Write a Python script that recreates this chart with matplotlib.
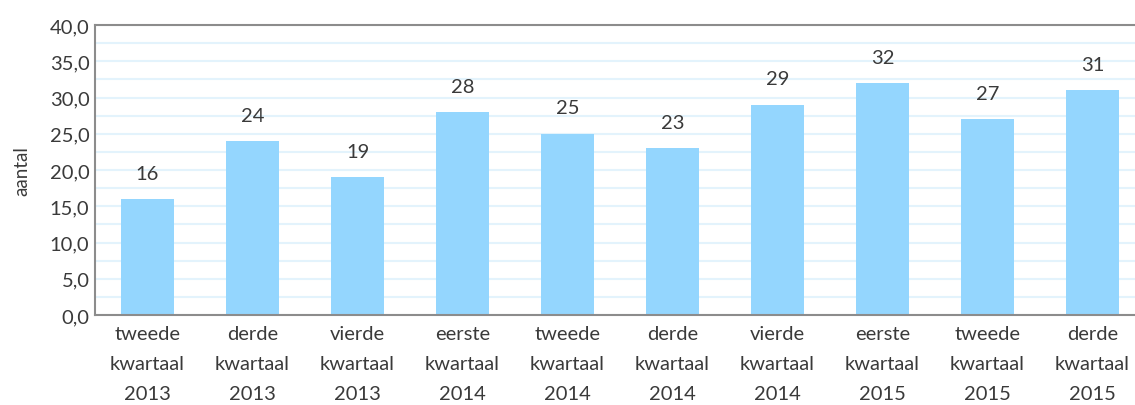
import matplotlib.pyplot as plt
from matplotlib.ticker import MultipleLocator, FuncFormatter
import numpy as np

# Data
categories = ['tweede\nkwartaal\n2013', 'derde\nkwartaal\n2013', 'vierde\nkwartaal\n2013',
              'eerste\nkwartaal\n2014', 'tweede\nkwartaal\n2014', 'derde\nkwartaal\n2014',
              'vierde\nkwartaal\n2014', 'eerste\nkwartaal\n2015', 'tweede\nkwartaal\n2015',
              'derde\nkwartaal\n2015']
values = [16, 24, 19, 28, 25, 23, 29, 32, 27, 31]

BAR = '#94d6fe'
GRID = '#e3f3fc'
TEXT = '#3a3a3a'
SPINE = '#8c8c8c'

plt.rcParams['font.family'] = ['Lato', 'DejaVu Sans']

fig = plt.figure(figsize=(11.35, 4.06), dpi=100, facecolor='white')
ax = fig.add_axes([95 / 1135, 1 - 316 / 406, 1050 / 1135, 290 / 406])

x = np.arange(len(values))
ax.bar(x, values, width=0.5, color=BAR, zorder=2)
for xi, v in zip(x, values):
    ax.text(xi, v + 2.4, str(v), ha='center', va='bottom', fontsize=14.5, color=TEXT)

ax.set_xlim(-0.5, len(values) - 0.5)
ax.set_ylim(0, 40)
ax.yaxis.set_major_locator(MultipleLocator(5))
ax.yaxis.set_minor_locator(MultipleLocator(2.5))
ax.yaxis.set_major_formatter(FuncFormatter(lambda v, p: f'{v:.1f}'.replace('.', ',')))
ax.grid(axis='y', which='both', color=GRID, linewidth=1.5, zorder=0)
ax.set_axisbelow(True)

ax.set_xticks(x)
ax.set_xticklabels(categories, linespacing=1.95)
ax.tick_params(axis='both', which='both', length=0, labelsize=14.5, colors=TEXT)
ax.tick_params(axis='x', pad=7)
ax.tick_params(axis='y', pad=4)

for s in ['left', 'bottom', 'top']:
    ax.spines[s].set_color(SPINE)
    ax.spines[s].set_linewidth(1.5)
ax.spines['right'].set_visible(False)

ax.set_ylabel('aantal', fontsize=13.5, color=TEXT, labelpad=14)

plt.savefig('out.png', dpi=100, facecolor='white')
plt.close()
